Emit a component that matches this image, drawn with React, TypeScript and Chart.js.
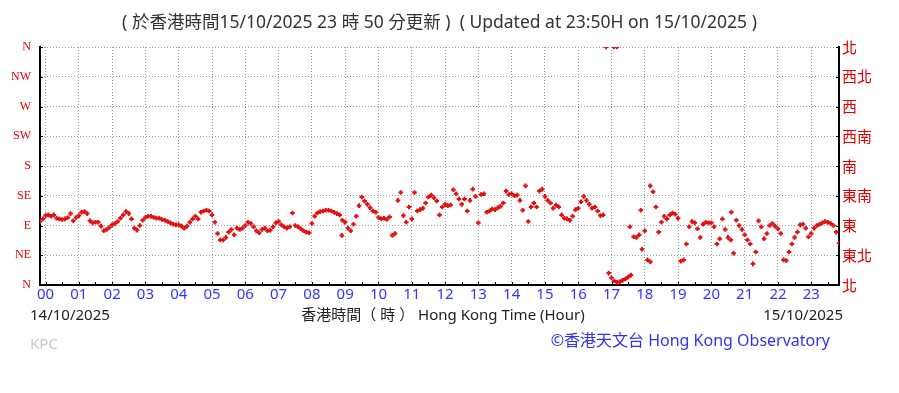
import { useEffect, useRef } from "react";
import { Chart, registerables } from "chart.js";

Chart.register(...registerables);

const hourLabels = ["00","01","02","03","04","05","06","07","08","09","10","11","12","13","14","15","16","17","18","19","20","21","22","23"];
const hourTickValues = [0,1,2,3,4,5,6,7,8,9,10,11,12,13,14,15,16,17,18,19,20,21,22,23];
const dirTickValues = [0, 45, 90, 135, 180, 225, 270, 315, 360];
const dirLabelsEn = ["N", "NE", "E", "SE", "S", "SW", "W", "NW", "N"];
const dirLabelsZh = ["北", "東北", "東", "東南", "南", "西南", "西", "西北", "北"];

// Samples every 5 minutes, starting 23:50 on 14/10 (hour -1/6)
const startHour = -1 / 6;
const stepHours = 5 / 60;

const leadDirs = [96, 100];
const dirs00to05 = [
  105, 106, 104, 106, 101, 100, 99, 100, 102, 108, 97, 102,
  105, 110, 111, 108, 97, 94, 95, 95, 89, 82, 84, 87,
  91, 93, 96, 101, 106, 111, 108, 100, 86, 83, 90, 98,
  102, 104, 104, 102, 101, 101, 99, 98, 96, 94, 92, 91,
  91, 89, 86, 89, 95, 100, 104, 100, 110, 112, 113, 112,
  106, 95, 78, 68, 68, 72, 80, 84, 76, 86, 84, 86,
];
const dirs06to11 = [
  90, 95, 93, 88, 82, 79, 84, 86, 82, 83, 88, 94,
  96, 91, 88, 86, 88, 109, 90, 88, 85, 82, 80, 79,
  93, 104, 109, 111, 112, 113, 113, 112, 110, 108, 106, 98,
  95, 86, 82, 92, 104, 120, 133, 127, 122, 117, 112, 110,
  102, 100, 101, 99, 103, 75, 78, 128, 140, 105, 95, 118,
  100, 140, 112, 114, 116, 124, 133, 136, 132, 127, 106, 118,
];
const dirs12to17 = [
  122, 120, 121, 144, 138, 130, 122, 130, 112, 128, 145, 134,
  94, 137, 138, 110, 112, 115, 114, 117, 119, 124, 142, 137,
  138, 135, 136, 128, 113, 150, 96, 118, 124, 118, 142, 145,
  134, 128, 124, 116, 121, 118, 106, 101, 100, 98, 104, 114,
  116, 126, 134, 128, 122, 116, 118, 112, 105, 106, 360, 18,
  11, 6, 4, 5, 7, 9, 12, 15, 73, 72, 76, 54,
];
const dirs18to23 = [
  82, 38, 35, 141, 118, 80, 95, 104, 100, 106, 109, 107,
  101, 36, 38, 62, 88, 96, 94, 85, 72, 92, 95, 94,
  94, 88, 62, 70, 100, 84, 72, 68, 48, 98, 90, 84,
  76, 68, 62, 32, 50, 97, 88, 70, 78, 90, 93, 89,
  85, 78, 38, 37, 50, 62, 72, 80, 91, 92, 86, 73,
  78, 86, 90, 92, 94, 96, 95, 93, 90, 80, 63,
];

// stray readings (hour, direction)
const strayHours = [8.9, 17.07, 17.16, 17.55, 17.88, 18.165, 20.6];
const strayDirs = [75, 360, 360, 88, 113, 150, 110];

const titleText = "( 於香港時間15/10/2025 23 時 50 分更新 )  ( Updated at 23:50H on 15/10/2025 )";
const dateStart = "14/10/2025";
const dateEnd = "15/10/2025";
const axisTitle = "香港時間（ 時 ） Hong Kong Time (Hour)";
const stationCode = "KPC";
const credit = "©香港天文台 Hong Kong Observatory";

const SANS = '"Noto Sans", "Noto Sans CJK TC", sans-serif';

const decor = {
  id: "decor",
  afterDraw(chart: any) {
    const { ctx, chartArea: a, scales } = chart;
    const xs = scales.x;
    const ys = scales.y;
    ctx.save();
    ctx.strokeStyle = "#000";
    ctx.lineWidth = 1;
    // inward ticks on bottom axis (every half hour)
    for (let i = 0; i < hourTickValues.length; i++) {
      for (const off of [0, 0.5]) {
        const px = Math.round(xs.getPixelForValue(hourTickValues[i] + off)) + 0.5;
        ctx.beginPath();
        ctx.moveTo(px, a.bottom);
        ctx.lineTo(px, a.bottom - 3);
        ctx.stroke();
      }
    }
    // inward ticks on left/right axes
    for (const v of dirTickValues) {
      const py = Math.round(ys.getPixelForValue(v)) + 0.5;
      ctx.beginPath();
      ctx.moveTo(a.left, py);
      ctx.lineTo(a.left + 3, py);
      ctx.moveTo(a.right, py);
      ctx.lineTo(a.right - 3, py);
      ctx.stroke();
    }
    const cx = (a.left + a.right) / 2;
    ctx.textBaseline = "alphabetic";
    // title
    ctx.fillStyle = "#333";
    ctx.font = `17.5px ${SANS}`;
    ctx.textAlign = "center";
    ctx.fillText(titleText, cx, 28);
    // bottom texts
    ctx.fillStyle = "#222";
    ctx.font = `15px ${SANS}`;
    ctx.textAlign = "left";
    ctx.fillText(dateStart, 30, 320);
    ctx.textAlign = "right";
    ctx.fillText(dateEnd, 843, 320);
    ctx.textAlign = "center";
    ctx.font = `15px ${SANS}`;
    ctx.fillText(axisTitle, 443, 320);
    ctx.fillStyle = "#c8c8c8";
    ctx.textAlign = "left";
    ctx.font = `15px ${SANS}`;
    ctx.fillText(stationCode, 30, 349);
    ctx.fillStyle = "#3333ee";
    ctx.textAlign = "right";
    ctx.font = `16px ${SANS}`;
    ctx.fillText(credit, 830, 346);
    ctx.restore();
  },
};

export default function App() {
  const ref = useRef<HTMLCanvasElement | null>(null);
  useEffect(() => {
    document.body.style.margin = "0";
    const mainDirs = [...leadDirs, ...dirs00to05, ...dirs06to11, ...dirs12to17, ...dirs18to23];
    const mainPoints = mainDirs.map((d, i) => ({ x: startHour + i * stepHours, y: d }));
    const strayPoints = strayHours.map((h, i) => ({ x: h, y: strayDirs[i] }));
    const pointOpts = {
      showLine: false,
      pointStyle: "cross",
      pointRadius: 2.3,
      pointBorderWidth: 2,
      borderColor: "#e01010",
      backgroundColor: "#e01010",
      pointHoverRadius: 2.3,
    };
    const chart = new Chart(ref.current as HTMLCanvasElement, {
      type: "scatter",
      data: {
        datasets: [
          { ...pointOpts, data: mainPoints } as any,
          { ...pointOpts, data: strayPoints } as any,
        ],
      },
      options: {
        animation: false,
        responsive: false,
        maintainAspectRatio: false,
        layout: { padding: { top: 47, left: 0, right: 0, bottom: 0 } },
        plugins: { legend: { display: false }, tooltip: { enabled: false }, title: { display: false } },
        scales: {
          x: {
            type: "linear",
            min: startHour,
            max: 23 + 5 / 6,
            afterBuildTicks: (s: any) => {
              s.ticks = hourTickValues.map((v) => ({ value: v }));
            },
            afterFit: (s: any) => {
              s.height = 108;
            },
            ticks: {
              autoSkip: false,
              maxRotation: 0,
              padding: 1,
              color: "#3333ff",
              font: { size: 15, family: SANS },
              callback: (_v: any, i: number) => hourLabels[i],
            },
            grid: { color: "#9a9a9a", lineWidth: 1, drawTicks: false },
            border: { display: true, color: "#000", width: 2, dash: [1, 2] },
          },
          y: {
            type: "linear",
            position: "left",
            min: 0,
            max: 360,
            afterBuildTicks: (s: any) => {
              s.ticks = dirTickValues.map((v) => ({ value: v }));
            },
            afterFit: (s: any) => {
              s.width = 40;
            },
            ticks: {
              padding: 9,
              color: "#e00000",
              font: { size: 12, family: '"Liberation Serif", serif' },
              callback: (_v: any, i: number) => dirLabelsEn[i],
            },
            grid: { color: "#9a9a9a", lineWidth: 1, drawTicks: false },
            border: { display: true, color: "#000", width: 2, dash: [1, 2] },
          },
          y2: {
            type: "linear",
            position: "right",
            min: 0,
            max: 360,
            afterBuildTicks: (s: any) => {
              s.ticks = dirTickValues.map((v) => ({ value: v }));
            },
            afterFit: (s: any) => {
              s.width = 60;
            },
            ticks: {
              padding: 3,
              color: "#e00000",
              font: { size: 15, family: '"Noto Sans CJK TC", sans-serif' },
              callback: (_v: any, i: number) => dirLabelsZh[i],
            },
            grid: { display: false, drawTicks: false },
            border: { display: true, color: "#000", width: 2 },
          },
        },
      },
      plugins: [decor],
    });
    return () => chart.destroy();
  }, []);
  return (
    <div style={{ width: 899, height: 393, position: "relative", background: "#fff" }}>
      <canvas ref={ref} width={899} height={393} />
    </div>
  );
}
